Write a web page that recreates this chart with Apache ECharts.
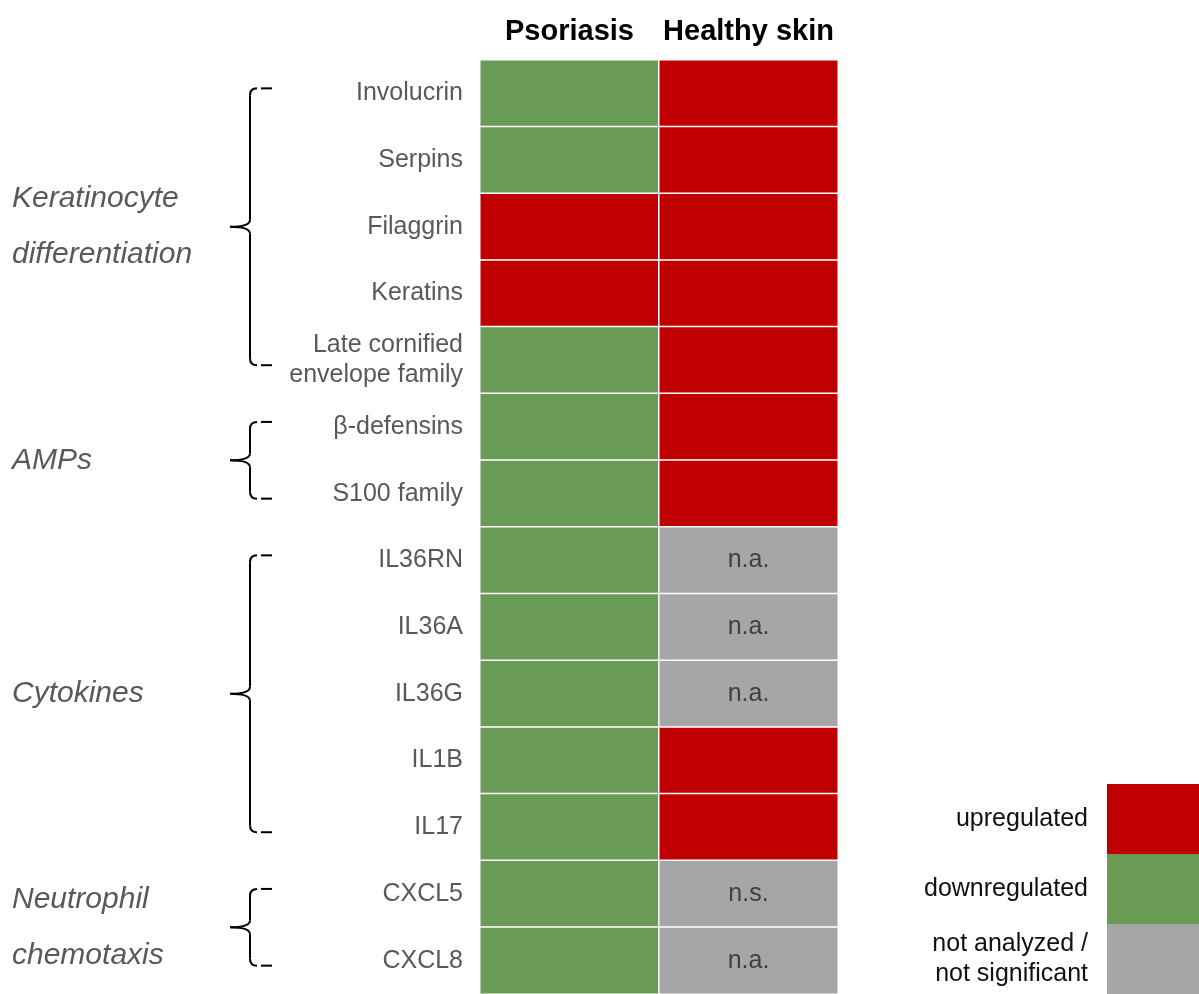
<!DOCTYPE html>
<html>
<head>
<meta charset="utf-8">
<script src="https://cdn.jsdelivr.net/npm/echarts@6/dist/echarts.min.js"></script>
<style>
  html, body { margin: 0; padding: 0; background: #fff; }
  #chart { width: 1199px; height: 994px; }
</style>
</head>
<body>
<div id="chart"></div>
<script>
// rows of the heatmap, top to bottom
const genes = [
  'Involucrin', 'Serpins', 'Filaggrin', 'Keratins', 'Late cornified\nenvelope family',
  'β-defensins', 'S100 family',
  'IL36RN', 'IL36A', 'IL36G', 'IL1B', 'IL17',
  'CXCL5', 'CXCL8'
];
const conditions = ['Psoriasis', 'Healthy skin'];

// regulation per gene: up / down / n.a. (not analyzed) / n.s. (not significant)
const psoriasis = ['down', 'down', 'up', 'up', 'down', 'down', 'down', 'down', 'down', 'down', 'down', 'down', 'down', 'down'];
const healthySkin = ['up', 'up', 'up', 'up', 'up', 'up', 'up', 'n.a.', 'n.a.', 'n.a.', 'up', 'up', 'n.s.', 'n.a.'];

// gene groups shown with braces on the left (first and last row)
const groupNames = ['Keratinocyte\ndifferentiation', 'AMPs', 'Cytokines', 'Neutrophil\nchemotaxis'];
const groupFirst = ['Involucrin', 'β-defensins', 'IL36RN', 'CXCL5'];
const groupLast = ['Late cornified\nenvelope family', 'S100 family', 'IL17', 'CXCL8'];

const legendLabels = ['upregulated', 'downregulated', 'not analyzed /\nnot significant'];

const RED = '#c00000';
const GREEN = '#699b55';
const GREY = '#a6a6a6';
const FONT = "'Liberation Sans', Arial, sans-serif";

const statusValue = (s) => (s === 'up' ? 2 : s === 'down' ? 1 : 0);

const cells = [];
[psoriasis, healthySkin].forEach((col, x) => {
  col.forEach((s, y) => {
    const note = s === 'n.a.' || s === 'n.s.' ? s : '';
    cells.push([x, y, statusValue(s), note]);
  });
});

const chart = echarts.init(document.getElementById('chart'));

chart.setOption({
  animation: false,
  grid: { left: 480, right: 361, top: 60, bottom: 0 },
  xAxis: {
    type: 'category',
    position: 'top',
    data: conditions,
    axisLine: { show: false },
    axisTick: { show: false },
    splitArea: { show: false },
    axisLabel: {
      interval: 0,
      color: '#000',
      fontWeight: 'bold',
      fontSize: 29,
      fontFamily: FONT,
      margin: 14
    }
  },
  yAxis: {
    type: 'category',
    inverse: true,
    data: genes,
    axisLine: { show: false },
    axisTick: { show: false },
    axisLabel: {
      interval: 0,
      color: '#595959',
      fontSize: 25,
      fontFamily: FONT,
      lineHeight: 30,
      margin: 17,
      align: 'right'
    }
  },
  visualMap: {
    type: 'piecewise',
    dimension: 2,
    orient: 'vertical',
    right: 0,
    bottom: 0,
    padding: 0,
    itemWidth: 92,
    itemHeight: 70,
    itemGap: 0,
    itemSymbol: 'rect',
    align: 'right',
    textGap: 19,
    selectedMode: false,
    textStyle: { color: '#111', fontSize: 25, fontFamily: FONT, lineHeight: 30 },
    pieces: [
      { value: 2, label: legendLabels[0], color: RED },
      { value: 1, label: legendLabels[1], color: GREEN },
      { value: 0, label: legendLabels[2], color: GREY }
    ]
  },
  series: [{
    type: 'heatmap',
    data: cells,
    itemStyle: { borderColor: '#fff', borderWidth: 1.5 },
    label: {
      show: true,
      color: '#404040',
      fontSize: 25,
      fontFamily: FONT,
      formatter: (p) => p.data[3]
    },
    emphasis: { disabled: true }
  }]
});

// braces and group names, placed from the y axis positions
function brace(x, top, bot) {
  const mid = (top + bot) / 2;
  const r = 7;
  const st = { stroke: '#000', lineWidth: 2, fill: null };
  const line = (x1, y1, x2, y2) => ({ type: 'line', shape: { x1, y1, x2, y2 }, style: st, silent: true });
  const curve = (x1, y1, cx, cy, x2, y2) => ({
    type: 'bezierCurve', shape: { x1, y1, cpx1: cx, cpy1: cy, x2, y2 }, style: st, silent: true
  });
  return [
    curve(x + r, top, x, top, x, top + r),
    line(x + 11, top, x + 22, top),
    line(x, top + r, x, mid - r),
    curve(x, mid - r, x, mid, x - 20, mid),
    curve(x, mid + r, x, mid, x - 20, mid),
    line(x, mid + r, x, bot - r),
    curve(x, bot - r, x, bot, x + r, bot),
    line(x + 11, bot, x + 22, bot)
  ];
}

const graphics = [];
groupNames.forEach((name, i) => {
  const top = chart.convertToPixel({ yAxisIndex: 0 }, groupFirst[i]) - 5;
  const bot = chart.convertToPixel({ yAxisIndex: 0 }, groupLast[i]) + 5;
  brace(250, top, bot).forEach((el) => graphics.push(el));
  graphics.push({
    type: 'text',
    silent: true,
    style: {
      text: name,
      x: 12,
      y: (top + bot) / 2,
      verticalAlign: 'middle',
      align: 'left',
      fill: '#595959',
      fontSize: 30,
      fontStyle: 'italic',
      fontFamily: FONT,
      lineHeight: 56
    }
  });
});

chart.setOption({ graphic: graphics });
</script>
</body>
</html>
